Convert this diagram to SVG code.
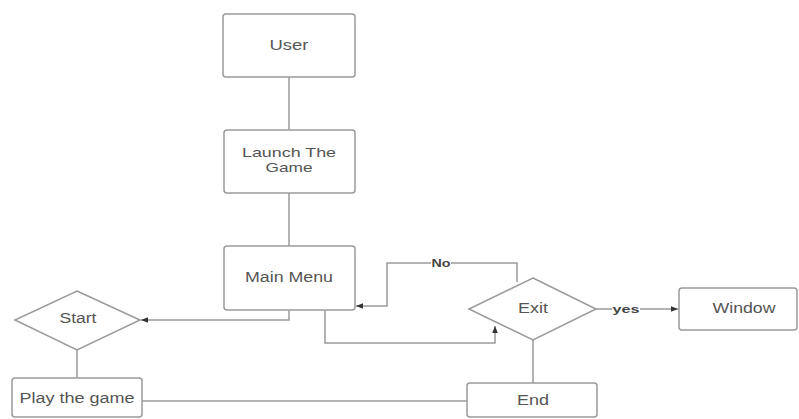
<svg xmlns="http://www.w3.org/2000/svg" width="799" height="419" viewBox="0 0 799 419">
<style>
.box{fill:#fff;stroke:#9a9a9a;stroke-width:1.5}
.t{font-family:"Liberation Sans",Arial,sans-serif;font-size:14px;fill:#555;text-anchor:middle;dominant-baseline:central}
.s{font-size:13px}
.c{fill:none;stroke:#9a9a9a;stroke-width:1.5}
.lbl{font-family:"Liberation Sans",Arial,sans-serif;font-size:10px;font-weight:bold;fill:#444;text-anchor:middle;dominant-baseline:central}
</style>
<defs>
<marker id="ah" viewBox="0 0 10 10" refX="10" refY="5" markerWidth="7" markerHeight="7" orient="auto" markerUnits="userSpaceOnUse">
<path d="M0,1 L10,5 L0,9 z" fill="#333"/>
</marker>
</defs>
<rect width="799" height="419" fill="#fff"/>
<g id="connectors">
<line class="c" x1="289" y1="77" x2="289" y2="130"/>
<line class="c" x1="289" y1="193" x2="289" y2="246"/>
<polyline class="c" points="289,310 289,320 141,320" marker-end="url(#ah)"/>
<polyline class="c" points="325,310 325,343 495,343 495,326" marker-end="url(#ah)"/>
<polyline class="c" points="517,282 517,263 387,263 387,306 356,306" marker-end="url(#ah)"/>
<line class="c" x1="596" y1="309" x2="678" y2="309" marker-end="url(#ah)"/>
<line class="c" x1="533" y1="340" x2="533" y2="383"/>
<line class="c" x1="77" y1="350" x2="77" y2="378"/>
<line class="c" x1="142" y1="401" x2="467" y2="401"/>
<rect x="431" y="257" width="20" height="12" fill="#fff"/>
<text class="lbl" x="441" y="263" textLength="19" lengthAdjust="spacingAndGlyphs">No</text>
<rect x="612" y="303" width="28" height="12" fill="#fff"/>
<text class="lbl" x="626" y="309" textLength="27" lengthAdjust="spacingAndGlyphs">yes</text>
</g>
<g id="user"><rect class="box" x="223" y="14" width="132" height="63" rx="3"/><text class="t" x="289" y="45" textLength="39" lengthAdjust="spacingAndGlyphs">User</text></g>
<g id="launch"><rect class="box" x="224" y="130" width="131" height="63" rx="3"/><text class="t s" x="289" y="152" textLength="94" lengthAdjust="spacingAndGlyphs">Launch The</text><text class="t s" x="289" y="167" textLength="47" lengthAdjust="spacingAndGlyphs">Game</text></g>
<g id="mainmenu"><rect class="box" x="224" y="246" width="131" height="64" rx="3"/><text class="t" x="289" y="277" textLength="88" lengthAdjust="spacingAndGlyphs">Main Menu</text></g>
<g id="start"><polygon class="box" points="77,291 140,320 77,350 15,320"/><text class="t" x="78" y="318" textLength="37" lengthAdjust="spacingAndGlyphs">Start</text></g>
<g id="play"><rect class="box" x="12" y="378" width="130" height="39" rx="3"/><text class="t" x="77" y="398" textLength="115" lengthAdjust="spacingAndGlyphs">Play the game</text></g>
<g id="exit"><polygon class="box" points="533,278 596,309 533,340 469,309"/><text class="t" x="533" y="308" textLength="30" lengthAdjust="spacingAndGlyphs">Exit</text></g>
<g id="window"><rect class="box" x="679" y="288" width="118" height="42" rx="3"/><text class="t" x="744" y="308" textLength="63" lengthAdjust="spacingAndGlyphs">Window</text></g>
<g id="end"><rect class="box" x="467" y="383" width="130" height="34" rx="3"/><text class="t" x="533" y="400" textLength="32" lengthAdjust="spacingAndGlyphs">End</text></g>
</svg>
